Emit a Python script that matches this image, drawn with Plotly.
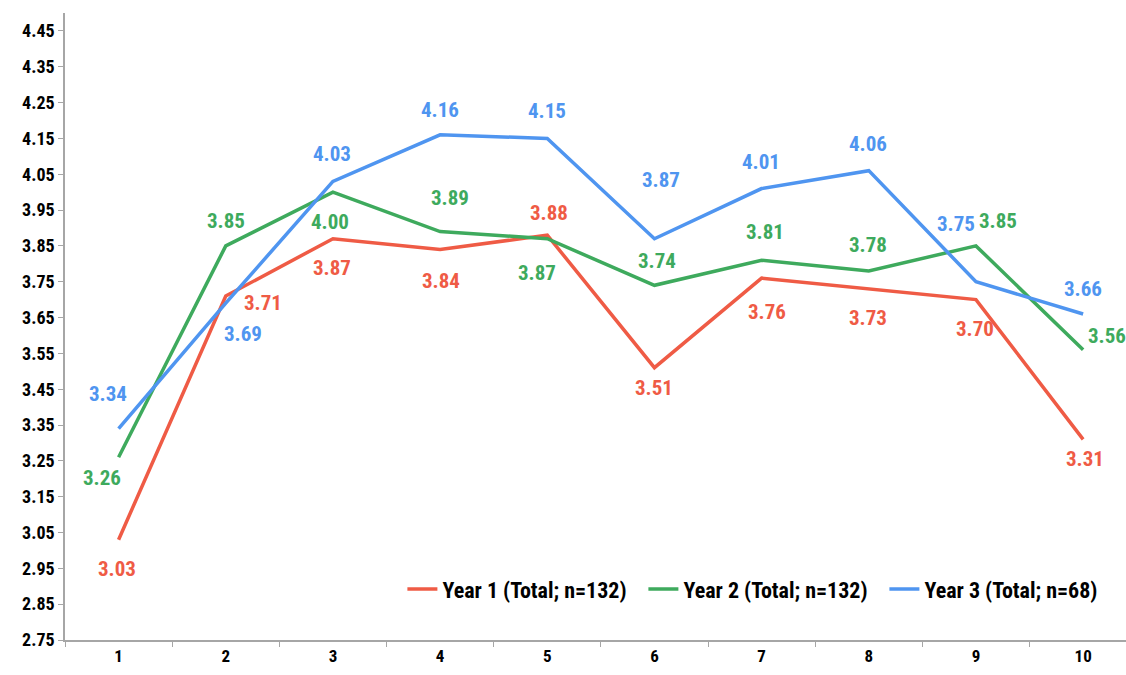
import plotly.graph_objects as go

categories = ["1", "2", "3", "4", "5", "6", "7", "8", "9", "10"]
year1 = [3.03, 3.71, 3.87, 3.84, 3.88, 3.51, 3.76, 3.73, 3.70, 3.31]
year2 = [3.26, 3.85, 4.00, 3.89, 3.87, 3.74, 3.81, 3.78, 3.85, 3.56]
year3 = [3.34, 3.69, 4.03, 4.16, 4.15, 3.87, 4.01, 4.06, 3.75, 3.66]
names = ["Year 1 (Total; n=132)", "Year 2 (Total; n=132)", "Year 3 (Total; n=68)"]

colors = ["#EF5B45", "#3EAA5D", "#4F95F0"]

# label offsets in pixels (dx right, dy down) — style only
off1 = [(-2, 29), (37, 7), (-1, 29), (1, 32), (2, -22), (0, 20), (5, 34), (-1, 29), (-1, 29), (2, 20)]
off2 = [(-17, 21), (0, -25), (-3, 30), (10, -34), (-10, 34), (3, -24), (3, -28), (-1, -26), (22, -25), (24, -14)]
off3 = [(-11, -35), (17, 31), (-1, -27), (0, -25), (0, -27), (7, -59), (-1, -27), (-1, -27), (-20, -58), (0, -25)]

FONT = "Liberation Sans Narrow, Arial Narrow, Roboto Condensed, Liberation Sans, Arial, sans-serif"

fig = go.Figure()
annotations = []
for vals, name, col, offs in zip([year1, year2, year3], names, colors, [off1, off2, off3]):
    fig.add_trace(go.Scatter(x=categories, y=vals, mode="lines", name=name,
                             line=dict(color=col, width=3.5)))
    for i, (v, (dx, dy)) in enumerate(zip(vals, offs)):
        annotations.append(dict(x=i, y=v, xref="x", yref="y", text=f"<b>{v:.2f}</b>",
                                showarrow=False, xshift=dx, yshift=-dy,
                                font=dict(family=FONT, size=21, color=col)))

fig.update_layout(
    width=1126, height=675,
    margin=dict(l=65, r=0, t=13, b=35),
    paper_bgcolor="white", plot_bgcolor="white",
    font=dict(family=FONT, color="black"),
    annotations=annotations,
    showlegend=True,
    legend=dict(orientation="h", x=0.318, y=0.081, xanchor="left", yanchor="middle",
                font=dict(family=FONT, size=22, color="black", weight="bold"),
                bgcolor="rgba(0,0,0,0)", itemwidth=30, tracegroupgap=0,
                entrywidth=196, entrywidthmode="pixels"),
)
fig.update_xaxes(type="category", range=[-0.5, 9.4], showline=True, linecolor="#A6A6A6",
                 linewidth=1.5, ticks="outside", ticklen=5, tickcolor="#A6A6A6",
                 tickson="boundaries", showgrid=False, zeroline=False,
                 tickfont=dict(family=FONT, size=17, color="black", weight="bold"))
fig.update_yaxes(range=[2.75, 4.5], tick0=2.75, dtick=0.1, tickformat=".2f",
                 showline=True, linecolor="#A6A6A6", linewidth=1.5, ticks="outside",
                 ticklen=5, tickcolor="#A6A6A6", showgrid=False, zeroline=False,
                 tickfont=dict(family=FONT, size=18, color="black", weight="bold"))

fig.write_html("out.html", config={"displayModeBar": False},
               post_script="document.body.style.margin='0';")
